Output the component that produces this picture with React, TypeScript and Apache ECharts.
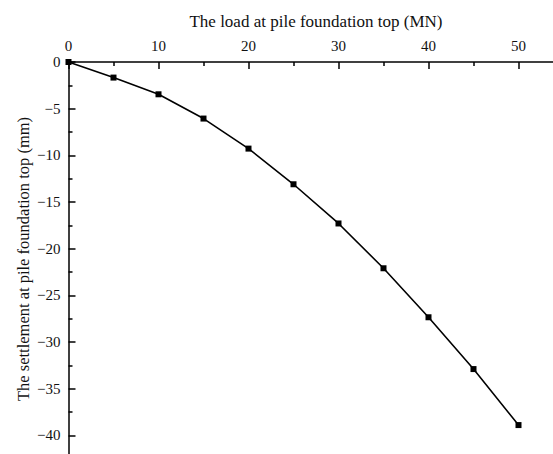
import React, { useEffect, useRef } from "react";
import * as echarts from "echarts";

const loads = [0, 5, 10, 15, 20, 25, 30, 35, 40, 45, 50];
const settlements = [0, -1.67, -3.46, -6.06, -9.28, -13.1, -17.3, -22.1, -27.35, -32.9, -38.9];
const xTickLabels = [0, 10, 20, 30, 40, 50];
const yTickLabels = [0, -5, -10, -15, -20, -25, -30, -35, -40];
const xTitle = "The load at pile foundation top (MN)";
const yTitle = "The settlement at pile foundation top (mm)";

const FONT = "'Liberation Serif', 'DejaVu Serif', serif";

export default function App() {
  const ref = useRef<HTMLDivElement>(null);
  useEffect(() => {
    if (!ref.current) return;
    const chart = echarts.init(ref.current, undefined, { renderer: "svg" });
    chart.setOption({
      animation: false,
      backgroundColor: "#ffffff",
      grid: {
        left: 68.5,
        top: 62,
        width: 540,
        height: 420,
        containLabel: false,
        outerBoundsMode: "none",
      },
      xAxis: {
        type: "value",
        position: "top",
        min: 0,
        max: 60,
        interval: 10,
        axisLine: { show: true, onZero: false, lineStyle: { color: "#000", width: 1.5 } },
        axisTick: { show: true, inside: true, length: 7, lineStyle: { color: "#000", width: 1.5 } },
        minorTick: { show: true, splitNumber: 2, length: 4, lineStyle: { color: "#000", width: 1.5 } },
        splitLine: { show: false },
        minorSplitLine: { show: false },
        axisLabel: {
          color: "#111",
          fontSize: 15,
          fontFamily: FONT,
          margin: 9,
          showMaxLabel: false,
          formatter: (v: number) => (xTickLabels.includes(v) ? String(v) : ""),
        },
      },
      yAxis: {
        type: "value",
        min: -45,
        max: 0,
        interval: 5,
        axisLine: { show: true, onZero: false, lineStyle: { color: "#000", width: 1.5 } },
        axisTick: { show: true, inside: true, length: 7, lineStyle: { color: "#000", width: 1.5 } },
        minorTick: { show: true, splitNumber: 2, length: 4, lineStyle: { color: "#000", width: 1.5 } },
        splitLine: { show: false },
        minorSplitLine: { show: false },
        axisLabel: {
          color: "#111",
          fontSize: 15,
          fontFamily: FONT,
          margin: 8,
          showMinLabel: false,
          formatter: (v: number) =>
            yTickLabels.includes(v) ? String(v).replace("-", "\u2212") : "",
        },
      },
      graphic: [
        {
          type: "text",
          x: 316,
          y: 21,
          style: {
            text: xTitle,
            fontSize: 17,
            fontFamily: FONT,
            fill: "#111",
            textAlign: "center",
            textVerticalAlign: "middle",
          },
        },
        {
          type: "text",
          x: 23,
          y: 259,
          rotation: Math.PI / 2,
          style: {
            text: yTitle,
            fontSize: 16.5,
            fontFamily: FONT,
            fill: "#111",
            textAlign: "center",
            textVerticalAlign: "middle",
          },
        },
      ],
      series: [
        {
          type: "line",
          data: loads.map((x, i) => [x, settlements[i]]),
          symbol: "rect",
          symbolSize: 6,
          showSymbol: true,
          clip: false,
          lineStyle: { color: "#000", width: 1.6 },
          itemStyle: { color: "#000" },
        },
      ],
    });
    return () => chart.dispose();
  }, []);
  return (
    <div
      ref={ref}
      style={{ position: "fixed", left: 0, top: 0, width: 553, height: 454, overflow: "hidden" }}
    />
  );
}
